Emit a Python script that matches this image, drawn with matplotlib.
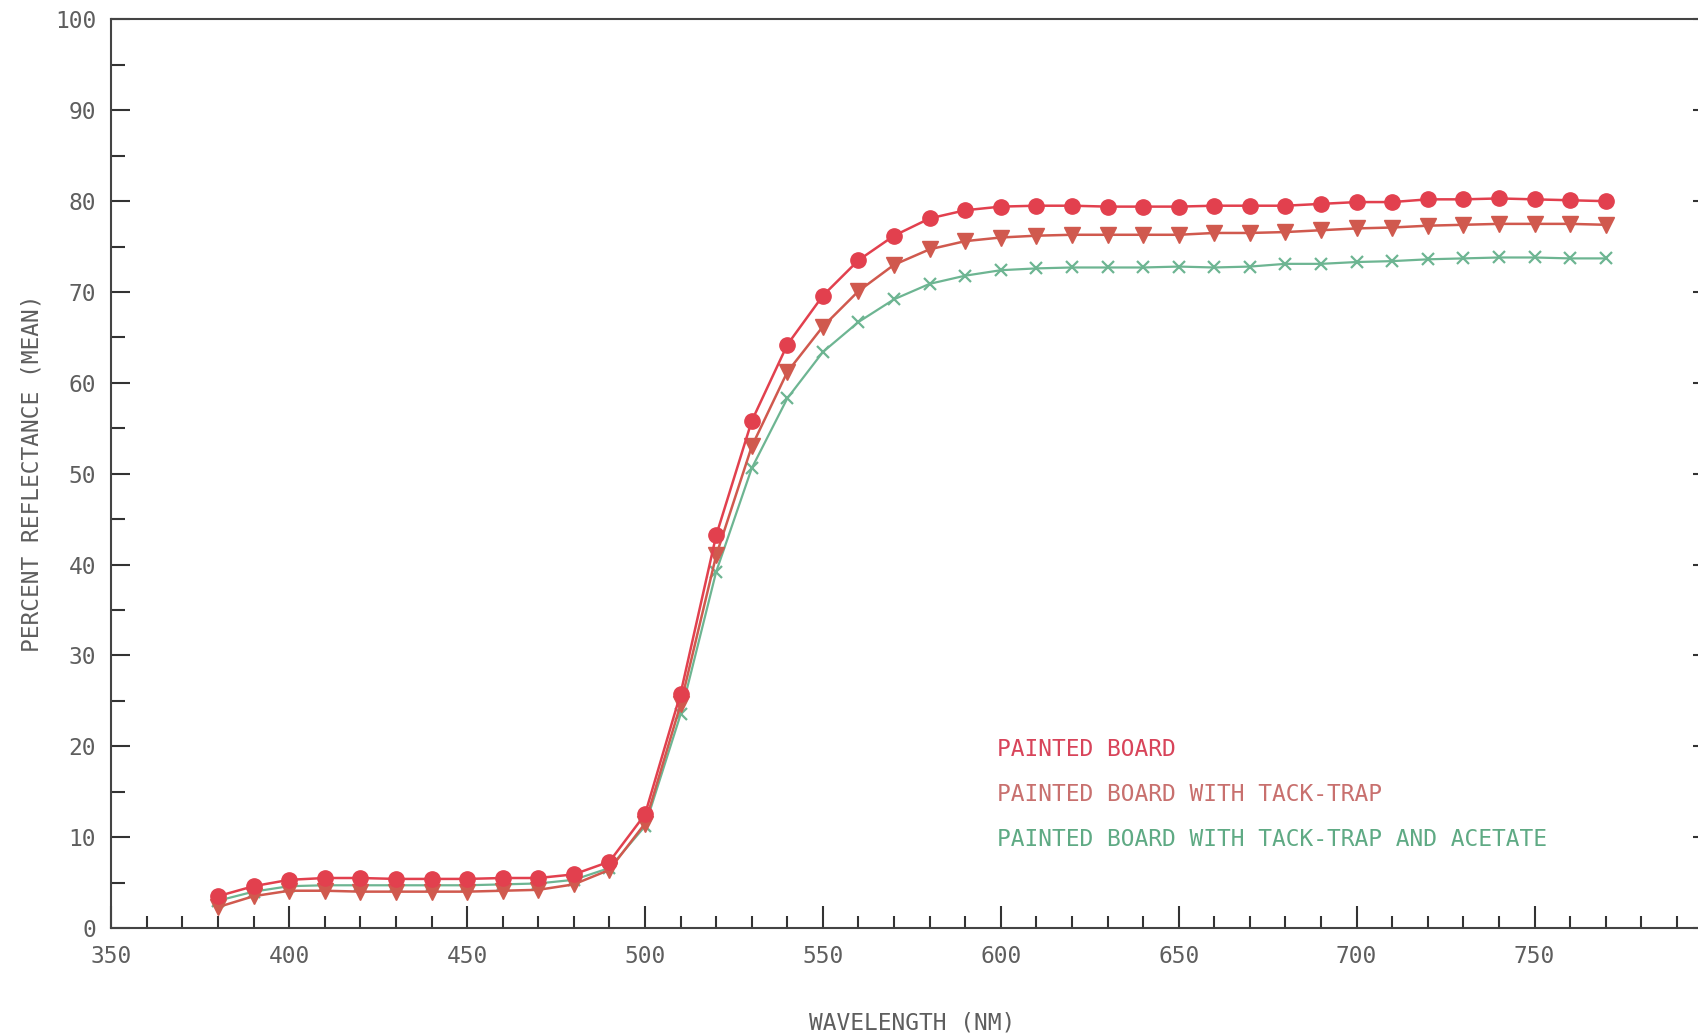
import numpy as np
import matplotlib
matplotlib.use('Agg')
import matplotlib.pyplot as plt
from matplotlib.ticker import MultipleLocator

#Data
wavelength = list(range(380, 780, 10))

painted_board = [3.5, 4.6, 5.3, 5.5, 5.5, 5.4, 5.4, 5.4, 5.5, 5.5,
                 5.9, 7.3, 12.5, 25.8, 43.2, 55.8, 64.2, 69.6, 73.5, 76.2,
                 78.1, 79.0, 79.4, 79.5, 79.5, 79.4, 79.4, 79.4, 79.5, 79.5,
                 79.5, 79.7, 79.9, 79.9, 80.2, 80.2, 80.3, 80.2, 80.1, 80.0]

tack_trap = [2.3, 3.5, 4.1, 4.1, 4.0, 4.0, 4.0, 4.0, 4.1, 4.2,
             4.8, 6.4, 11.5, 24.6, 41.0, 53.0, 61.2, 66.2, 70.1, 73.0,
             74.7, 75.6, 76.0, 76.2, 76.3, 76.3, 76.3, 76.3, 76.5, 76.5,
             76.6, 76.8, 77.0, 77.1, 77.3, 77.4, 77.5, 77.5, 77.5, 77.4]

acetate = [3.0, 4.0, 4.6, 4.7, 4.7, 4.7, 4.7, 4.7, 4.8, 4.9,
           5.3, 6.6, 11.2, 23.5, 39.2, 50.6, 58.3, 63.4, 66.7, 69.2,
           70.9, 71.8, 72.4, 72.6, 72.7, 72.7, 72.7, 72.8, 72.7, 72.8,
           73.1, 73.1, 73.3, 73.4, 73.6, 73.7, 73.8, 73.8, 73.7, 73.7]

labels = ['PAINTED BOARD',
          'PAINTED BOARD WITH TACK-TRAP',
          'PAINTED BOARD WITH TACK-TRAP AND ACETATE']
label_y = [19.7, 14.7, 9.7]

plt.rcParams['font.family'] = 'DejaVu Sans Mono'
grey = '#5e5e5e'
red = '#e2404e'
brown = '#d0594e'
green = '#6db592'

fig = plt.figure(figsize=(16.99, 10.35), dpi=100)
ax = fig.add_axes([0.0655, 0.1034, 0.9424, 0.8778])

#Plotting the three series
ax.plot(wavelength, acetate, color=green, lw=1.6, marker='x', ms=8, mew=1.6, zorder=3)
ax.plot(wavelength, tack_trap, color=brown, lw=1.8, marker='v', ms=11, zorder=4)
ax.plot(wavelength, painted_board, color=red, lw=1.8, marker='o', ms=11, zorder=5)

#Legend as coloured text
for txt, yy, c in zip(labels, label_y, ['#d8445a', '#c8706e', '#5faa84']):
    ax.text(599, yy, txt, color=c, fontsize=16.5, va='center', ha='left')

ax.set_xlim(350, 800)
ax.set_ylim(0, 100)
ax.xaxis.set_major_locator(MultipleLocator(50))
ax.xaxis.set_minor_locator(MultipleLocator(10))
ax.yaxis.set_major_locator(MultipleLocator(10))
ax.yaxis.set_minor_locator(MultipleLocator(5))
ax.set_xticks(range(350, 800, 50))

ax.tick_params(axis='both', which='both', direction='in', color='#333333',
               labelcolor=grey, labelsize=16.5, width=1.5)
ax.tick_params(axis='x', which='major', length=16, pad=12)
ax.tick_params(axis='x', which='minor', length=9)
ax.tick_params(axis='y', which='major', length=14, pad=11, right=True)
ax.tick_params(axis='y', which='minor', length=10, right=True)
ax.tick_params(top=False, which='both')

for s in ax.spines.values():
    s.set_color('#444444')
    s.set_linewidth(1.5)

ax.set_xlabel('WAVELENGTH (NM)', fontsize=16.5, color=grey)
ax.set_ylabel('PERCENT REFLECTANCE (MEAN)', fontsize=16.5, color=grey)
ax.xaxis.set_label_coords(0.5, -0.092)
ax.yaxis.set_label_coords(-0.0425, 0.5)

fig.savefig('out.png', dpi=100, facecolor='white')
